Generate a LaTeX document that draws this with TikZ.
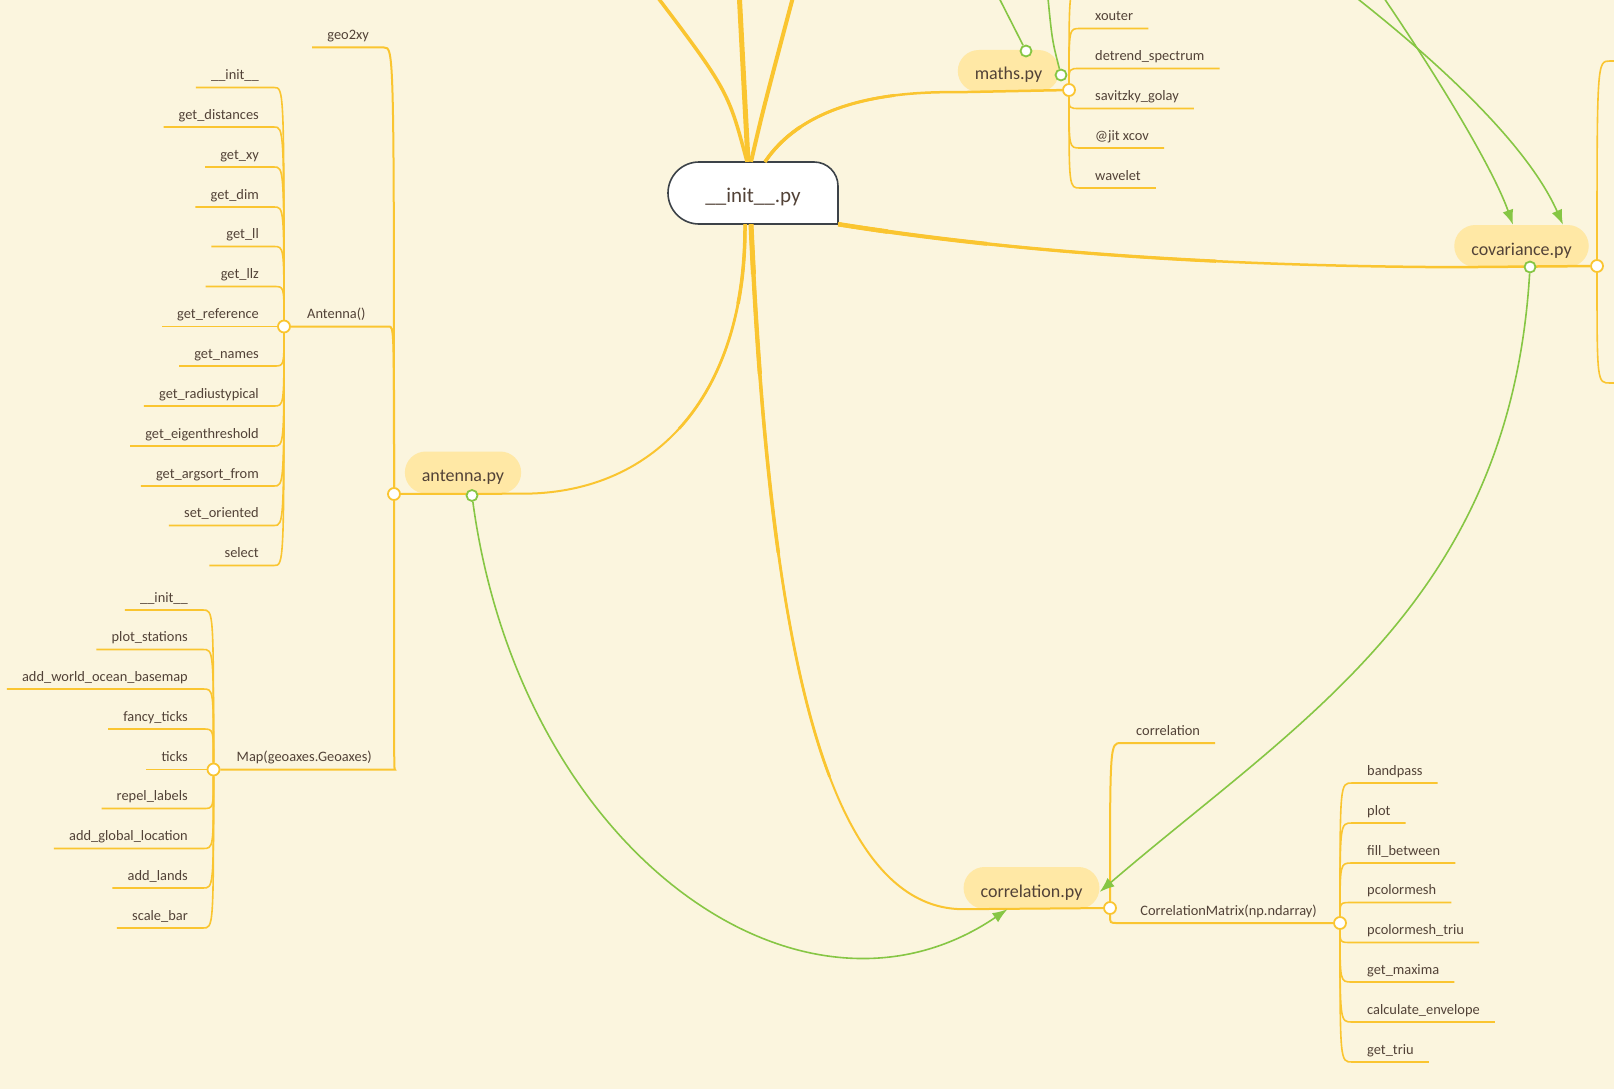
\documentclass[tikz,border=0pt]{standalone}
\usepackage{fontspec}
\setmainfont{Carlito}
\usetikzlibrary{arrows.meta,calc}

\definecolor{paper}{RGB}{251,245,222}
\definecolor{branch}{RGB}{250,197,48}
\definecolor{pillfill}{RGB}{255,232,165}
\definecolor{ink}{RGB}{82,66,55}
\definecolor{link}{RGB}{134,198,68}
\definecolor{rim}{RGB}{60,66,72}

\tikzset{
 leaf/.style={font=\fontsize{14.4}{16}\selectfont, text=ink, inner xsep=15pt, inner ysep=3.5pt, text height=10pt, text depth=4pt},
 mid/.style={leaf, inner xsep=23pt},
 pill/.style={fill=pillfill, rounded corners=21pt, minimum height=42pt, inner xsep=17pt, inner ysep=0pt, text height=19pt, text depth=1pt, font=\fontsize{18}{20}\selectfont, text=ink},
 twig/.style={draw=branch, line width=1.6pt},
 trunk/.style={draw=branch, line width=2pt},
 limb/.style={draw=branch, line width=#1},
 part/.style={dash pattern=on #1 off 10000pt},
 hub/.style={circle, draw=branch, fill=white, line width=1.8pt, minimum size=12pt, inner sep=0pt},
 dot/.style={circle, draw=link, fill=white, line width=1.8pt, minimum size=11pt, inner sep=0pt},
 rel/.style={draw=link, line width=1.6pt},
 relarrow/.style={rel, -{Latex[length=15pt,width=11pt]}}
}

\begin{document}
\begin{tikzpicture}[x=1pt,y=-1pt]
 \useasboundingbox (0,0) rectangle (1614,1089);
 \fill[paper] (0,0) rectangle (1614,1089);
 \clip (0,0) rectangle (1614,1089);

 % central topic
 \draw[fill=white, draw=rim, line width=1.6pt] (838,224) -- (699,224) .. controls (681.9,224) and (668,210.1) .. (668,193) .. controls (668,175.9) and (681.9,162) .. (699,162) -- (814,162) .. controls (827.3,162) and (838,172.7) .. (838,186) -- cycle;
 \node[font=\fontsize{21}{24}\selectfont, text=ink, minimum width=170pt, minimum height=62pt, inner sep=0pt, text height=19pt, text depth=1pt] (init) at (753,193) {\_\_init\_\_.py};

 % modules
 \node[pill] (antenna) at (463,472.5) {antenna.py};
 \node[pill] (maths) at (1008.5,71) {maths.py};
 \node[pill] (covariance) at (1521.5,246) {covariance.py};
 \node[pill] (correlation) at (1031.5,888) {correlation.py};

 % junctions
 \node[hub] (aj) at (394,494) {};
 \node[hub] (amj) at (284,326.5) {};
 \node[hub] (mpj) at (213.5,769.5) {};
 \node[hub] (mj) at (1069,90) {};
 \node[hub] (cvj) at (1597,266) {};
 \node[hub] (crj) at (1110,908) {};
 \node[hub] (cmj) at (1340,923) {};

 % off canvas ends
 \coordinate (up1) at (646,-18);
 \coordinate (up2) at (739,-10);
 \coordinate (up3) at (797,-18);
 \coordinate (moff) at (1080,-12);
 \coordinate (cvoff1) at (1610,61);
 \coordinate (cvoff2) at (1610,383);
 \coordinate (mup1) at (994,-12);
 \coordinate (mup2) at (1047,-12);
 \coordinate (cup1) at (1340,-15);
 \coordinate (cup2) at (1375,-15);

 % main branches, thicker near the centre
 \draw[limb=3.5pt] ([xshift=-6pt]init.north) .. controls (728,90) .. (up1);
 \draw[limb=5pt] ([xshift=-5pt]init.north) -- (up2);
 \draw[limb=4pt] ([xshift=-2pt]init.north) .. controls (763,110) .. (up3);
 \foreach \w/\l in {2.5/2000, 3/150, 3.5/50}
  \draw[limb=\w pt, part=\l pt] ([xshift=12pt]init.north) .. controls (800,110) and (870,91) .. (maths.south west) -- (mj);
 \foreach \w/\l in {2.5/2000, 3.25/380, 4/150, 4.5/50}
  \draw[limb=\w pt, part=\l pt] (init.south east) .. controls (1000,250) and (1200,266) .. (covariance.south west) -- (cvj);
 \foreach \w/\l in {2/2000, 2.75/220, 3.5/80}
  \draw[limb=\w pt, part=\l pt] ([xshift=-8pt]init.south) .. controls (746,390) and (660,494) .. (antenna.south east) -- (aj);
 \foreach \w/\l in {2/2000, 2.75/560, 3.5/330, 4.25/150, 5/50}
  \draw[limb=\w pt, part=\l pt] ([xshift=-2pt]init.south) .. controls (768,600) and (815,909) .. (correlation.south west) -- (crj);

 % antenna.py
 \node[leaf, anchor=south east] (geo) at (384,47.5) {geo2xy};
 \node[mid, anchor=south west] (antclass) at (amj.center) {Antenna()};
 \node[mid, anchor=south west] (mapclass) at (mpj.center) {Map(geoaxes.Geoaxes)};
 \draw[trunk] (aj) .. controls (aj |- geo.south east) .. (geo.south east) -- (geo.south west);
 \draw[trunk] (aj) .. controls (aj |- antclass.south east) .. (antclass.south east) -- (amj);
 \draw[trunk] (aj) .. controls (aj |- mapclass.south east) .. (mapclass.south east) -- (mpj);

 \node[leaf, anchor=south east] (a1) at (274,87.5) {\_\_init\_\_};
 \node[leaf, anchor=south east] (a2) at (274,127) {get\_distances};
 \node[leaf, anchor=south east] (a3) at (274,167) {get\_xy};
 \node[leaf, anchor=south east] (a4) at (274,207) {get\_dim};
 \node[leaf, anchor=south east] (a5) at (274,246.5) {get\_ll};
 \node[leaf, anchor=south east] (a6) at (274,286.5) {get\_llz};
 \node[leaf, anchor=south east] (a7) at (274,326.5) {get\_reference};
 \node[leaf, anchor=south east] (a8) at (274,366) {get\_names};
 \node[leaf, anchor=south east] (a9) at (274,406) {get\_radiustypical};
 \node[leaf, anchor=south east] (a10) at (274,446) {get\_eigenthreshold};
 \node[leaf, anchor=south east] (a11) at (274,486) {get\_argsort\_from};
 \node[leaf, anchor=south east] (a12) at (274,525.5) {set\_oriented};
 \node[leaf, anchor=south east] (a13) at (274,565.5) {select};
 \draw[twig] (amj) .. controls (amj |- a1.south east) .. (a1.south east) -- (a1.south west);
 \draw[twig] (amj) .. controls (amj |- a2.south east) .. (a2.south east) -- (a2.south west);
 \draw[twig] (amj) .. controls (amj |- a3.south east) .. (a3.south east) -- (a3.south west);
 \draw[twig] (amj) .. controls (amj |- a4.south east) .. (a4.south east) -- (a4.south west);
 \draw[twig] (amj) .. controls (amj |- a5.south east) .. (a5.south east) -- (a5.south west);
 \draw[twig] (amj) .. controls (amj |- a6.south east) .. (a6.south east) -- (a6.south west);
 \draw[twig] (amj) -- (a7.south west);
 \draw[twig] (amj) .. controls (amj |- a8.south east) .. (a8.south east) -- (a8.south west);
 \draw[twig] (amj) .. controls (amj |- a9.south east) .. (a9.south east) -- (a9.south west);
 \draw[twig] (amj) .. controls (amj |- a10.south east) .. (a10.south east) -- (a10.south west);
 \draw[twig] (amj) .. controls (amj |- a11.south east) .. (a11.south east) -- (a11.south west);
 \draw[twig] (amj) .. controls (amj |- a12.south east) .. (a12.south east) -- (a12.south west);
 \draw[twig] (amj) .. controls (amj |- a13.south east) .. (a13.south east) -- (a13.south west);

 \node[leaf, anchor=south east] (p1) at (203,610) {\_\_init\_\_};
 \node[leaf, anchor=south east] (p2) at (203,649.5) {plot\_stations};
 \node[leaf, anchor=south east] (p3) at (203,689) {add\_world\_ocean\_basemap};
 \node[leaf, anchor=south east] (p4) at (203,729) {fancy\_ticks};
 \node[leaf, anchor=south east] (p5) at (203,769.5) {ticks};
 \node[leaf, anchor=south east] (p6) at (203,808.5) {repel\_labels};
 \node[leaf, anchor=south east] (p7) at (203,848.5) {add\_global\_location};
 \node[leaf, anchor=south east] (p8) at (203,888) {add\_lands};
 \node[leaf, anchor=south east] (p9) at (203,928) {scale\_bar};
 \draw[twig] (mpj) .. controls (mpj |- p1.south east) .. (p1.south east) -- (p1.south west);
 \draw[twig] (mpj) .. controls (mpj |- p2.south east) .. (p2.south east) -- (p2.south west);
 \draw[twig] (mpj) .. controls (mpj |- p3.south east) .. (p3.south east) -- (p3.south west);
 \draw[twig] (mpj) .. controls (mpj |- p4.south east) .. (p4.south east) -- (p4.south west);
 \draw[twig] (mpj) -- (p5.south west);
 \draw[twig] (mpj) .. controls (mpj |- p6.south east) .. (p6.south east) -- (p6.south west);
 \draw[twig] (mpj) .. controls (mpj |- p7.south east) .. (p7.south east) -- (p7.south west);
 \draw[twig] (mpj) .. controls (mpj |- p8.south east) .. (p8.south east) -- (p8.south west);
 \draw[twig] (mpj) .. controls (mpj |- p9.south east) .. (p9.south east) -- (p9.south west);

 % maths.py
 \node[leaf, anchor=south west] (m1) at (1080,28.5) {xouter};
 \node[leaf, anchor=south west] (m2) at (1080,68.5) {detrend\_spectrum};
 \node[leaf, anchor=south west] (m3) at (1080,108.5) {savitzky\_golay};
 \node[leaf, anchor=south west] (m4) at (1080,148) {@jit xcov};
 \node[leaf, anchor=south west] (m5) at (1080,188) {wavelet};
 \draw[twig] (mj) .. controls (mj |- moff) .. (moff) -- +(60,0);
 \draw[twig] (mj) .. controls (mj |- m1.south west) .. (m1.south west) -- (m1.south east);
 \draw[twig] (mj) .. controls (mj |- m2.south west) .. (m2.south west) -- (m2.south east);
 \draw[twig] (mj) .. controls (mj |- m3.south west) .. (m3.south west) -- (m3.south east);
 \draw[twig] (mj) .. controls (mj |- m4.south west) .. (m4.south west) -- (m4.south east);
 \draw[twig] (mj) .. controls (mj |- m5.south west) .. (m5.south west) -- (m5.south east);

 % covariance.py
 \draw[twig] (cvj) .. controls (cvj |- cvoff1) .. (cvoff1) -- +(30,0);
 \draw[twig] (cvj) .. controls (cvj |- cvoff2) .. (cvoff2) -- +(30,0);

 % correlation.py
 \node[leaf, anchor=south west] (c0) at (1121,743) {correlation};
 \node[mid, anchor=south east] (cormat) at (cmj.center) {CorrelationMatrix(np.ndarray)};
 \draw[trunk] (crj) .. controls (crj |- c0.south west) .. (c0.south west) -- (c0.south east);
 \draw[trunk] (crj) .. controls (crj |- cormat.south west) .. (cormat.south west) -- (cmj);

 \node[leaf, anchor=south west] (r1) at (1352,783) {bandpass};
 \node[leaf, anchor=south west] (r2) at (1352,823) {plot};
 \node[leaf, anchor=south west] (r3) at (1352,863) {fill\_between};
 \node[leaf, anchor=south west] (r4) at (1352,902.5) {pcolormesh};
 \node[leaf, anchor=south west] (r5) at (1352,942.5) {pcolormesh\_triu};
 \node[leaf, anchor=south west] (r6) at (1352,982) {get\_maxima};
 \node[leaf, anchor=south west] (r7) at (1352,1022) {calculate\_envelope};
 \node[leaf, anchor=south west] (r8) at (1352,1062) {get\_triu};
 \draw[twig] (cmj) .. controls (cmj |- r1.south west) .. (r1.south west) -- (r1.south east);
 \draw[twig] (cmj) .. controls (cmj |- r2.south west) .. (r2.south west) -- (r2.south east);
 \draw[twig] (cmj) .. controls (cmj |- r3.south west) .. (r3.south west) -- (r3.south east);
 \draw[twig] (cmj) .. controls (cmj |- r4.south west) .. (r4.south west) -- (r4.south east);
 \draw[twig] (cmj) .. controls (cmj |- r5.south west) .. (r5.south west) -- (r5.south east);
 \draw[twig] (cmj) .. controls (cmj |- r6.south west) .. (r6.south west) -- (r6.south east);
 \draw[twig] (cmj) .. controls (cmj |- r7.south west) .. (r7.south west) -- (r7.south east);
 \draw[twig] (cmj) .. controls (cmj |- r8.south west) .. (r8.south west) -- (r8.south east);

 % relationships
 \node[dot] (adot) at (472,495.5) {};
 \node[dot] (cvdot) at (1530,267) {};
 \node[dot] (mdot1) at (1026,51) {};
 \node[dot] (mdot2) at (1061,75) {};
 \draw[relarrow] (adot) .. controls (520,850) and (800,1050) .. ([xshift=-24pt]correlation.south);
 \draw[relarrow] (cvdot) .. controls (1510,600) and (1300,720) .. ([yshift=-4pt]correlation.east);
 \draw[relarrow] (cup1) .. controls (1450,70) and (1530,150) .. ([xshift=41.5pt]covariance.north);
 \draw[relarrow] (cup2) .. controls (1420,50) and (1490,160) .. ([xshift=-8.5pt]covariance.north);
 \draw[rel] (mdot1) -- (mup1);
 \draw[rel] (mdot2) .. controls (1052,40) .. (mup2);
\end{tikzpicture}
\end{document}
